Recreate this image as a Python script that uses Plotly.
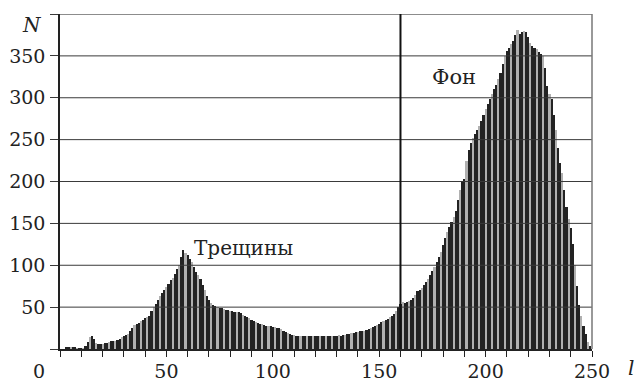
import plotly.graph_objects as go

# Brightness histogram: number of pixels N at each grey level l
levels = list(range(0, 251))
counts = [
    0, 0, 0, 2, 2, 2, 2, 2, 1, 1,            # 0-9
    1, 1, 3, 8, 14, 15, 12, 7, 6, 6,         # 10-19
    6, 7, 7, 8, 9, 10, 10, 11, 12, 14,       # 20-29
    16, 17, 18, 22, 25, 29, 30, 31, 33, 35,  # 30-39
    37, 38, 40, 45, 50, 54, 58, 63, 67, 71,  # 40-49
    74, 78, 82, 85, 89, 95, 100, 110, 118, 115,  # 50-59
    112, 108, 104, 98, 92, 88, 84, 77, 70, 63,   # 60-69
    58, 55, 52, 51, 50, 49, 49, 48, 47, 46,      # 70-79
    45, 45, 44, 44, 44, 43, 41, 40, 38, 37,      # 80-89
    35, 34, 32, 31, 30, 30, 29, 28, 27, 27,      # 90-99
    26, 26, 25, 25, 24, 22, 20, 19, 18, 17,      # 100-109
    17, 16, 16, 16, 15, 16, 15, 16, 15, 15,      # 110-119
    16, 15, 15, 16, 15, 15, 16, 16, 15, 16,      # 120-129
    16, 17, 16, 17, 17, 18, 18, 19, 19, 20,      # 130-139
    20, 21, 21, 22, 23, 24, 25, 26, 28, 29,      # 140-149
    30, 32, 33, 35, 36, 38, 40, 42, 45, 50,      # 150-159
    54, 56, 55, 56, 57, 59, 61, 65, 69, 71,      # 160-169
    73, 76, 80, 84, 88, 93, 98, 104, 110, 116,   # 170-179
    124, 132, 140, 146, 152, 158, 165, 178, 190, 200,  # 180-189
    203, 225, 238, 246, 252, 257, 262, 266, 272, 280,  # 190-199
    286, 292, 298, 305, 310, 315, 322, 330, 340, 350,  # 200-209
    356, 360, 364, 368, 375, 381, 376, 378, 380, 378,  # 210-219
    372, 365, 362, 360, 358, 355, 352, 350, 335, 314,  # 220-229
    305, 298, 280, 262, 240, 222, 210, 190, 170, 155,  # 230-239
    145, 125, 100, 75, 52, 40, 28, 18, 8, 3,           # 240-249
    0,                                                 # 250
]

x_tick_vals = [50, 100, 150, 200, 250]
x_tick_text = ["50", "100", "150", "200", "250"]
y_tick_vals = [0, 50, 100, 150, 200, 250, 300, 350, 400]
y_tick_text = ["", "50", "100", "150", "200", "250", "300", "350", ""]
threshold = 160

# striped look of the printed bars: two dark, one light
bar_colors = ["#232323" if i % 3 != 2 else "#b0b0b0" for i in range(len(levels))]

SERIF = "DejaVu Serif"
text_color = "#222222"


def serif(size):
    return dict(family=SERIF, size=size, color=text_color)


fig = go.Figure(
    go.Bar(
        x=levels,
        y=counts,
        width=1,
        marker=dict(color=bar_colors, line=dict(width=0)),
        hoverinfo="x+y",
    )
)

shapes = []
# horizontal grid drawn over the bars
for v in y_tick_vals[1:]:
    shapes.append(dict(
        type="line", xref="paper", yref="y", x0=0, x1=1, y0=v, y1=v,
        line=dict(color="#666666" if v == 400 else "#3a3a3a", width=1.5 if v == 400 else 1),
        layer="above",
    ))
# right frame edge
shapes.append(dict(
    type="line", xref="paper", yref="y", x0=1, x1=1, y0=0, y1=400,
    line=dict(color="#777777", width=1.5), layer="above",
))
# threshold separating cracks from background
shapes.append(dict(
    type="line", xref="x", yref="y", x0=threshold, x1=threshold, y0=0, y1=400,
    line=dict(color="#111111", width=2), layer="above",
))

W, H = 639, 383
ML, MR, MT, MB = 60, 47, 14, 34
pw, ph = W - ML - MR, H - MT - MB


def px_to_paper(px, py):
    return (px - ML) / pw, (H - MB - py) / ph


annotations = [
    dict(text="Трещины", x=62, y=121, xref="x", yref="y", showarrow=False,
         xanchor="left", yanchor="middle", font=serif(20)),
    dict(text="Фон", x=174, y=325, xref="x", yref="y", showarrow=False,
         xanchor="left", yanchor="middle", font=serif(21)),
]
for label, px, py, anchor in [("<i>N</i>", 44, 25, "right"),
                              ("<i>l</i>", 636, 368, "right"),
                              ("0", 39, 371, "center")]:
    xp, yp = px_to_paper(px, py)
    annotations.append(dict(text=label, x=xp, y=yp, xref="paper", yref="paper",
                            showarrow=False, xanchor=anchor, yanchor="middle",
                            font=serif(20 if label != "0" else 19)))

fig.update_layout(
    width=W, height=H,
    margin=dict(l=ML, r=MR, t=MT, b=MB, pad=0, autoexpand=False),
    paper_bgcolor="white", plot_bgcolor="white",
    bargap=0,
    showlegend=False,
    font=serif(19),
    shapes=shapes,
    annotations=annotations,
    xaxis=dict(
        range=[0, 250], automargin=False,
        tickmode="array", tickvals=x_tick_vals, ticktext=x_tick_text,
        ticks="outside", ticklen=6, tickcolor="#222", tickwidth=1,
        ticklabelstandoff=-2,
        minor=dict(dtick=10, ticks="outside", ticklen=6, tickcolor="#222", tickwidth=1, showgrid=False),
        showline=True, linecolor="#222", linewidth=1.5,
        showgrid=False, zeroline=False,
        tickfont=serif(19),
    ),
    yaxis=dict(
        range=[0, 400], automargin=False,
        tickmode="array", tickvals=y_tick_vals, ticktext=y_tick_text,
        ticks="outside", ticklen=8, tickcolor="#3a3a3a", tickwidth=1,
        ticklabelstandoff=1,
        showline=True, linecolor="#222", linewidth=1.5,
        showgrid=False, zeroline=False,
        tickfont=serif(19),
    ),
)

fig.write_html("out.html")
